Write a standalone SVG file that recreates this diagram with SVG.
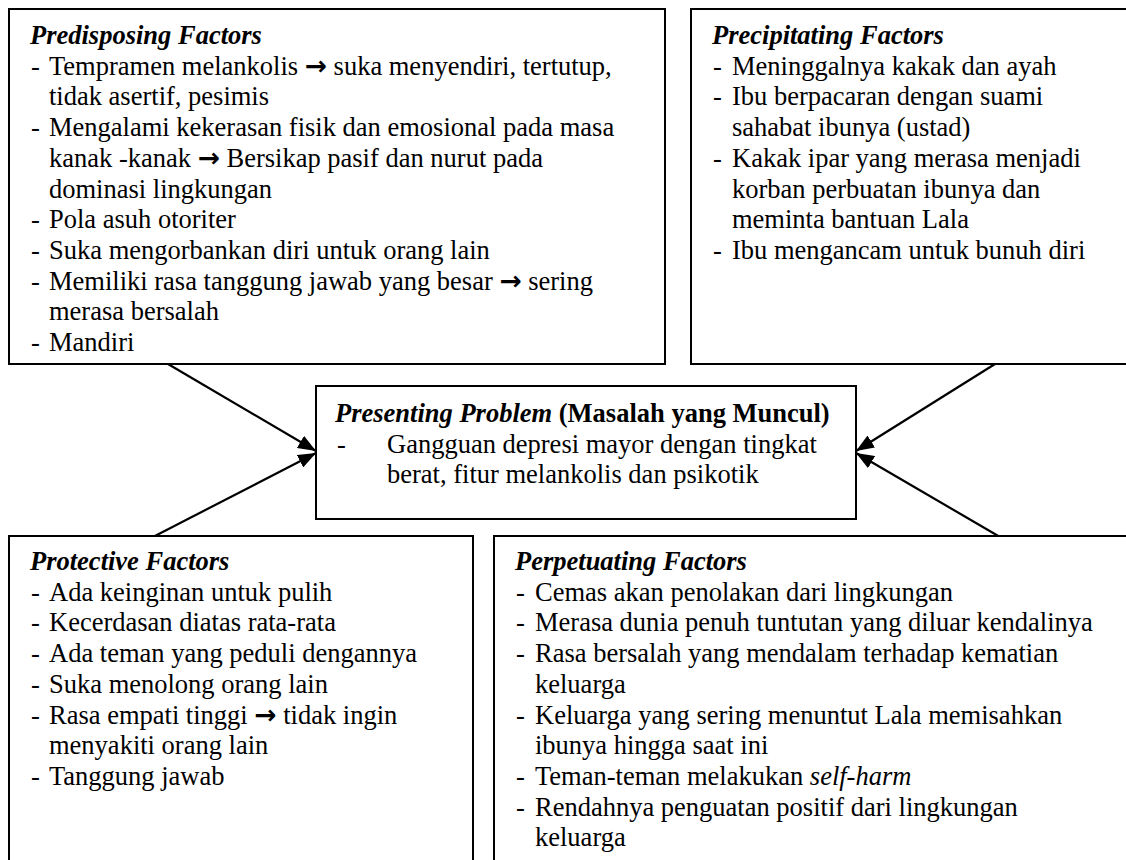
<svg xmlns="http://www.w3.org/2000/svg" width="1126" height="860" viewBox="0 0 1126 860">
<style>
.box{fill:#fff;stroke:#000;stroke-width:2}
.t{font-family:"Liberation Serif","Times New Roman",serif;font-size:26.5px;fill:#000}
.h{font-weight:bold;font-style:italic}
.b{font-weight:bold}
.i{font-style:italic}
.ar{font-family:"DejaVu Sans",sans-serif;font-weight:bold}
.c{stroke:#000;stroke-width:2.2;fill:none;marker-end:url(#ah)}
</style>
<defs>
<marker id="ah" viewBox="0 0 18 14" refX="18" refY="7" markerWidth="18" markerHeight="14" markerUnits="userSpaceOnUse" orient="auto">
<path d="M0,0 L18,7 L0,14 z" fill="#000"/>
</marker>
</defs>
<rect width="1126" height="860" fill="#fff"/>
<g id="connectors">
<line class="c" x1="168" y1="364" x2="316" y2="451"/>
<line class="c" x1="153" y1="537" x2="316" y2="453"/>
<line class="c" x1="995" y1="364" x2="856" y2="451"/>
<line class="c" x1="1000" y1="537" x2="856" y2="453"/>
</g>
<g id="predisposing">
<rect class="box" x="9" y="9" width="656" height="355"/>
<text class="t h" x="30" y="44">Predisposing Factors</text>
<text class="t" x="31" y="74.7">-</text><text class="t" x="49" y="74.7">Tempramen melankolis <tspan class="ar">→</tspan> suka menyendiri, tertutup,</text>
<text class="t" x="49" y="105.4">tidak asertif, pesimis</text>
<text class="t" x="31" y="136.1">-</text><text class="t" x="49" y="136.1">Mengalami kekerasan fisik dan emosional pada masa</text>
<text class="t" x="49" y="166.8">kanak -kanak <tspan class="ar">→</tspan> Bersikap pasif dan nurut pada</text>
<text class="t" x="49" y="197.5">dominasi lingkungan</text>
<text class="t" x="31" y="228.2">-</text><text class="t" x="49" y="228.2">Pola asuh otoriter</text>
<text class="t" x="31" y="258.9">-</text><text class="t" x="49" y="258.9">Suka mengorbankan diri untuk orang lain</text>
<text class="t" x="31" y="289.6">-</text><text class="t" x="49" y="289.6">Memiliki rasa tanggung jawab yang besar <tspan class="ar">→</tspan> sering</text>
<text class="t" x="49" y="320.3">merasa bersalah</text>
<text class="t" x="31" y="351">-</text><text class="t" x="49" y="351">Mandiri</text>
</g>
<g id="precipitating">
<rect class="box" x="691" y="9" width="449" height="355"/>
<text class="t h" x="712" y="44">Precipitating Factors</text>
<text class="t" x="713" y="74.7">-</text><text class="t" x="732" y="74.7">Meninggalnya kakak dan ayah</text>
<text class="t" x="713" y="105.4">-</text><text class="t" x="732" y="105.4">Ibu berpacaran dengan suami</text>
<text class="t" x="732" y="136.1">sahabat ibunya (ustad)</text>
<text class="t" x="713" y="166.8">-</text><text class="t" x="732" y="166.8">Kakak ipar yang merasa menjadi</text>
<text class="t" x="732" y="197.5">korban perbuatan ibunya dan</text>
<text class="t" x="732" y="228.2">meminta bantuan Lala</text>
<text class="t" x="713" y="258.9">-</text><text class="t" x="732" y="258.9">Ibu mengancam untuk bunuh diri</text>
</g>
<g id="presenting">
<rect class="box" x="316" y="386" width="540" height="133"/>
<text class="t" x="335" y="422"><tspan class="h">Presenting Problem</tspan> <tspan class="b">(Masalah yang Muncul)</tspan></text>
<text class="t" x="337" y="452.5">-</text>
<text class="t" x="387" y="452.5">Gangguan depresi mayor dengan tingkat</text>
<text class="t" x="387" y="483">berat, fitur melankolis dan psikotik</text>
</g>
<g id="protective">
<rect class="box" x="9" y="536" width="464" height="344"/>
<text class="t h" x="30" y="570">Protective Factors</text>
<text class="t" x="31" y="600.7">-</text><text class="t" x="49" y="600.7">Ada keinginan untuk pulih</text>
<text class="t" x="31" y="631.4">-</text><text class="t" x="49" y="631.4">Kecerdasan diatas rata-rata</text>
<text class="t" x="31" y="662.1">-</text><text class="t" x="49" y="662.1">Ada teman yang peduli dengannya</text>
<text class="t" x="31" y="692.8">-</text><text class="t" x="49" y="692.8">Suka menolong orang lain</text>
<text class="t" x="31" y="723.5">-</text><text class="t" x="49" y="723.5">Rasa empati tinggi <tspan class="ar">→</tspan> tidak ingin</text>
<text class="t" x="49" y="754.2">menyakiti orang lain</text>
<text class="t" x="31" y="784.9">-</text><text class="t" x="49" y="784.9">Tanggung jawab</text>
</g>
<g id="perpetuating">
<rect class="box" x="494" y="536" width="646" height="344"/>
<text class="t h" x="515" y="570">Perpetuating Factors</text>
<text class="t" x="516" y="600.7">-</text><text class="t" x="535" y="600.7">Cemas akan penolakan dari lingkungan</text>
<text class="t" x="516" y="631.4">-</text><text class="t" x="535" y="631.4">Merasa dunia penuh tuntutan yang diluar kendalinya</text>
<text class="t" x="516" y="662.1">-</text><text class="t" x="535" y="662.1">Rasa bersalah yang mendalam terhadap kematian</text>
<text class="t" x="535" y="692.8">keluarga</text>
<text class="t" x="516" y="723.5">-</text><text class="t" x="535" y="723.5">Keluarga yang sering menuntut Lala memisahkan</text>
<text class="t" x="535" y="754.2">ibunya hingga saat ini</text>
<text class="t" x="516" y="784.9">-</text><text class="t" x="535" y="784.9">Teman-teman melakukan <tspan class="i">self-harm</tspan></text>
<text class="t" x="516" y="815.6">-</text><text class="t" x="535" y="815.6">Rendahnya penguatan positif dari lingkungan</text>
<text class="t" x="535" y="846.3">keluarga</text>
</g>
</svg>
